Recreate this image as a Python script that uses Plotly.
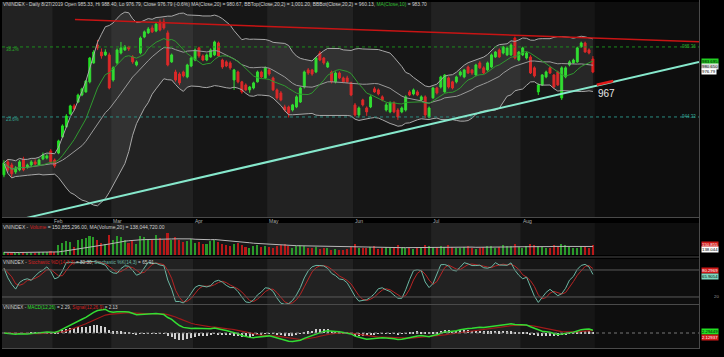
import numpy as np
import pandas as pd
import plotly.graph_objects as go

# ---------------- data ----------------
opens = [910.4, 918.0, 916.2, 912.1, 913.3, 919.7, 915.0, 916.2, 918.0, 916.2,
         919.7, 920.3, 924.4, 919.1, 923.2, 932.6, 938.5, 946.1, 950.8, 953.1,
         957.2, 959.0, 964.9, 976.0, 986.5, 982.4, 980.7, 980.7, 966.0, 976.0,
         981.8, 983.6, 985.4, 979.5, 974.8, 981.8, 991.2, 993.6, 996.5, 994.7,
         1000.0, 1000.0, 993.6, 976.6, 970.7, 969.5, 970.7, 967.8, 974.2, 977.7,
         984.8, 980.1, 977.7, 979.5, 980.7, 987.7, 977.7, 976.6, 976.0, 966.0,
         970.7, 964.9, 963.1, 960.2, 961.3, 964.9, 970.7, 967.2, 971.9, 967.2,
         960.2, 958.4, 950.2, 950.2, 948.4, 950.2, 953.1, 961.9, 971.9, 971.9,
         970.7, 981.8, 978.9, 973.6, 970.7, 964.9, 970.1, 967.2, 967.2, 964.3,
         951.4, 945.5, 954.3, 949.6, 950.2, 960.8, 960.2, 956.1, 948.4, 947.3,
         952.5, 948.4, 947.3, 948.4, 959.0, 957.8, 959.0, 954.3, 956.1, 944.3,
         955.5, 961.3, 961.9, 959.0, 967.2, 964.9, 964.9, 968.9, 967.8, 973.6,
         971.9, 968.9, 976.0, 973.1, 971.9, 973.6, 979.5, 983.6, 981.8, 980.7,
         980.7, 990.6, 977.7, 980.7, 978.9, 979.5, 973.1, 959.0, 963.1, 967.8,
         973.1, 968.9, 970.7, 955.5, 967.8, 974.8, 976.0, 976.6, 985.4, 987.7,
         983.6, 978.3]
closes = [917.4, 913.3, 911.0, 914.5, 918.0, 913.3, 916.2, 918.0, 916.8, 919.1,
          922.1, 921.5, 918.0, 915.6, 930.3, 939.1, 944.9, 950.8, 949.0, 957.2,
          960.8, 965.4, 978.9, 982.4, 984.8, 980.1, 982.4, 961.3, 973.1, 983.6,
          984.8, 985.4, 984.2, 976.6, 976.6, 990.6, 994.2, 995.9, 994.2, 998.8,
          995.3, 996.5, 974.8, 980.7, 966.0, 964.3, 968.4, 974.8, 978.9, 983.6,
          980.1, 977.7, 980.7, 983.6, 988.3, 980.1, 973.6, 974.2, 973.1, 971.9,
          964.9, 959.0, 960.2, 961.9, 964.3, 970.7, 967.8, 973.1, 969.5, 960.2,
          955.5, 954.3, 948.4, 946.7, 951.4, 956.1, 961.3, 970.7, 970.1, 969.5,
          978.9, 977.7, 976.0, 976.0, 964.9, 970.1, 967.2, 964.9, 964.9, 957.2,
          945.5, 949.6, 951.4, 947.3, 956.1, 959.0, 957.8, 954.3, 951.4, 952.5,
          947.3, 944.3, 949.6, 956.1, 957.2, 960.2, 957.2, 956.1, 945.5, 949.6,
          961.3, 958.4, 967.8, 968.9, 961.9, 961.3, 967.8, 970.7, 971.9, 970.1,
          970.1, 974.8, 973.1, 970.1, 976.0, 980.7, 982.4, 979.5, 985.4, 984.8,
          986.5, 978.9, 982.4, 984.8, 981.8, 970.1, 968.4, 963.1, 968.9, 970.7,
          970.1, 961.9, 963.1, 973.1, 973.1, 976.6, 977.7, 984.8, 987.7, 982.4,
          981.8, 970.7]
highs = [919.0, 919.5, 917.5, 915.5, 919.0, 921.0, 917.0, 919.0, 919.5, 920.0,
         923.5, 922.5, 925.5, 920.0, 931.0, 940.0, 946.0, 951.5, 952.0, 958.0,
         961.5, 966.0, 979.5, 983.5, 989.5, 984.5, 984.0, 982.0, 974.0, 984.5,
         988.3, 986.5, 986.0, 980.5, 977.5, 991.5, 995.0, 997.0, 998.0, 999.5,
         1001.5, 1002.0, 995.0, 981.5, 972.0, 970.5, 971.5, 975.5, 979.5, 984.5,
         985.5, 981.0, 981.5, 984.5, 989.0, 988.5, 978.5, 977.5, 977.0, 972.5,
         971.5, 965.5, 964.0, 962.5, 965.0, 971.5, 971.5, 974.0, 973.0, 968.0,
         961.0, 959.5, 951.5, 951.0, 952.0, 957.0, 962.0, 971.5, 973.0, 972.5,
         979.5, 983.0, 979.5, 977.0, 971.5, 971.0, 971.0, 968.0, 968.5, 965.0,
         952.5, 950.5, 955.0, 950.5, 957.0, 962.0, 961.0, 957.0, 952.5, 953.5,
         953.5, 949.5, 950.5, 957.0, 960.0, 961.0, 960.0, 957.0, 957.0, 950.5,
         962.0, 962.0, 968.5, 969.5, 968.0, 965.5, 968.5, 971.5, 972.5, 974.5,
         972.5, 975.5, 977.0, 974.0, 976.8, 981.5, 983.0, 984.5, 986.0, 985.5,
         987.5, 991.5, 983.0, 985.5, 982.5, 980.5, 974.0, 964.0, 969.5, 971.5,
         974.0, 969.5, 971.5, 974.0, 974.0, 977.5, 978.5, 985.5, 988.5, 988.5,
         984.5, 980.0]
lows = [909.0, 912.0, 909.0, 911.0, 912.5, 912.5, 914.0, 915.5, 916.0, 915.5,
        919.0, 919.5, 917.0, 914.5, 922.5, 932.0, 938.0, 945.5, 948.0, 952.5,
        956.5, 958.5, 964.0, 975.5, 983.5, 978.5, 980.0, 960.5, 965.0, 975.0,
        981.0, 983.0, 983.0, 975.5, 974.0, 981.0, 990.5, 993.0, 993.5, 994.0,
        994.5, 995.5, 974.0, 976.0, 965.0, 963.0, 967.5, 967.0, 973.5, 977.0,
        979.0, 977.0, 977.0, 979.0, 980.0, 979.5, 972.5, 973.5, 972.0, 960.2,
        964.0, 958.0, 959.5, 958.5, 960.5, 964.5, 967.0, 966.5, 968.5, 959.5,
        954.5, 953.5, 947.5, 944.0, 947.5, 949.5, 952.5, 961.0, 969.0, 968.5,
        970.0, 977.0, 975.0, 973.0, 964.0, 964.0, 966.5, 964.0, 964.0, 956.5,
        944.5, 944.0, 950.5, 945.0, 949.5, 958.5, 957.0, 953.5, 947.5, 946.5,
        946.5, 942.6, 946.5, 947.5, 956.5, 957.0, 956.5, 953.5, 943.7, 943.5,
        955.0, 957.5, 961.0, 958.5, 961.0, 960.5, 964.0, 968.0, 967.0, 969.5,
        969.0, 968.0, 972.5, 969.5, 971.0, 973.0, 979.0, 979.0, 981.0, 980.0,
        980.0, 978.0, 977.0, 980.0, 978.0, 969.5, 967.5, 957.2, 962.5, 967.0,
        969.5, 961.0, 962.5, 954.3, 967.0, 974.0, 975.5, 976.0, 985.0, 982.0,
        981.0, 970.0]
volumes_m = [105, 102, 100, 108, 104, 106, 100, 103, 98, 104, 108, 106, 112,
             104, 150, 165, 175, 170, 140, 185, 190, 195, 210, 200, 185, 165, 160, 215,
             185, 210, 200, 180, 165, 175, 160, 205, 200, 190, 180, 215, 195, 185, 225, 180, 200, 185, 170, 175, 190,
             165, 170, 155, 160, 175, 185, 170, 160, 150, 145, 155, 165, 148, 140, 135, 142, 150, 140, 145,
             138, 135, 145, 150, 160, 145, 135, 145, 150, 142, 130, 135, 140, 128, 130, 135, 122, 126, 118, 122, 126, 140,
             155, 135, 130, 135, 140, 145, 128, 132, 136, 130, 140, 150, 138, 135, 130, 126, 130, 135, 148, 142,
             140, 136, 145, 140, 148, 136, 130, 134, 138, 142, 130, 126, 134, 138, 142, 146, 134, 138, 150, 142, 146, 155, 138,
             135, 142, 155, 148, 142, 140, 135, 130, 148, 142, 155, 150, 140, 135, 130, 142, 140, 132, 150.9]

month_starts = [13, 28, 49, 68, 90, 110, 133]
month_labels = ["Feb", "Mar", "Apr", "May", "Jun", "Jul", "Aug"]
fib_levels = [985.36, 944.33]
fib_names = ["38.2%", "23.6%"]
resist_x = [18.2, 178.2]
resist_y = [1001.4, 988.4]
support_x = [5.8, 178.2]
support_y = [885.2, 976.6]
mark_x = [152.0, 156.2]
mark_y = [963.2, 965.4]
target_label = "967"

# ---------------- helpers ----------------
W, H = 724, 357
def py(p):
    return 1 - p / H
def pxx(p):
    return p / W

N = len(closes)
idx = list(range(N))
c = pd.Series(closes); hi = pd.Series(highs); lo = pd.Series(lows)
vol = pd.Series(volumes_m)

ma20 = c.rolling(20, min_periods=1).mean()
sd20 = c.rolling(20, min_periods=1).std(ddof=0).fillna(0)
bbu = ma20 + 2 * sd20
bbl = ma20 - 2 * sd20
ma10 = c.rolling(10, min_periods=1).mean()
vma = vol.rolling(20, min_periods=1).mean()

ll = lo.rolling(14, min_periods=1).min()
hh = hi.rolling(14, min_periods=1).max()
fk = 100 * (c - ll) / (hh - ll).replace(0, np.nan)
fk = fk.fillna(50)
sk = fk.rolling(3, min_periods=1).mean()
sdd = sk.rolling(3, min_periods=1).mean()

ema12 = c.ewm(span=12, adjust=False).mean()
ema26 = c.ewm(span=26, adjust=False).mean()
macd = ema12 - ema26
sig = macd.ewm(span=9, adjust=False).mean()
hist = macd - sig

GREEN = "#22e022"
RED = "#e01818"

fig = go.Figure()
# Bollinger
fig.add_trace(go.Scatter(x=idx, y=bbl, mode="lines", line=dict(color="#a8a8a8", width=1),
                         xaxis="x", yaxis="y", hoverinfo="skip"))
fig.add_trace(go.Scatter(x=idx, y=bbu, mode="lines", line=dict(color="#a8a8a8", width=1),
                         fill="tonexty", fillcolor="rgba(200,200,200,0.10)",
                         xaxis="x", yaxis="y", hoverinfo="skip"))
fig.add_trace(go.Scatter(x=idx, y=ma20, mode="lines", line=dict(color="#9a9a9a", width=1),
                         xaxis="x", yaxis="y", hoverinfo="skip"))
fig.add_trace(go.Scatter(x=idx, y=ma10, mode="lines", line=dict(color="#2f9a2f", width=1),
                         xaxis="x", yaxis="y", hoverinfo="skip"))
fig.add_trace(go.Candlestick(x=idx, open=opens, high=highs, low=lows, close=closes,
                             increasing=dict(line=dict(color=GREEN, width=1), fillcolor=GREEN),
                             decreasing=dict(line=dict(color=RED, width=1), fillcolor=RED),
                             whiskerwidth=0, xaxis="x", yaxis="y"))

# Volume
vcols = ["#2a9a2a" if cl >= op else "#b81818" for op, cl in zip(opens, closes)]
fig.add_trace(go.Bar(x=idx, y=volumes_m, marker=dict(color=vcols, line=dict(width=0)), width=0.4,
                     xaxis="x2", yaxis="y2"))
fig.add_trace(go.Scatter(x=idx, y=vma, mode="lines", line=dict(color="#b8b8b8", width=1),
                         xaxis="x2", yaxis="y2"))

# Stochastic
fig.add_trace(go.Scatter(x=idx, y=sdd, mode="lines", line=dict(color="#b82424", width=1),
                         xaxis="x3", yaxis="y3"))
fig.add_trace(go.Scatter(x=idx, y=sk, mode="lines", line=dict(color="#6cb8a4", width=1),
                         xaxis="x3", yaxis="y3"))

# MACD
fig.add_trace(go.Bar(x=idx, y=hist, marker=dict(color="#d0d0d0", line=dict(width=0)), width=0.3,
                     xaxis="x4", yaxis="y4"))
fig.add_trace(go.Scatter(x=idx, y=sig, mode="lines", line=dict(color="#a01a1a", width=1.2),
                         xaxis="x4", yaxis="y4"))
fig.add_trace(go.Scatter(x=idx, y=macd, mode="lines", line=dict(color="#33dd33", width=1.5),
                         xaxis="x4", yaxis="y4"))

xr = [-0.5, 178.2]
xdom = [pxx(2), pxx(699)]
ax = dict(range=xr, domain=xdom, showgrid=False, zeroline=False, showticklabels=False,
          showline=False, fixedrange=True)
yax = dict(showgrid=False, zeroline=False, showticklabels=False, showline=False, fixedrange=True)

shapes = []
# month shading
bounds = [-0.5] + [m - 0.5 for m in month_starts] + [N - 0.5, xr[1]]
band_cols = ["#222222", "#161616"] * 4 + ["#0e0e0e"]
for ref in ["y", "y2", "y3", "y4"]:
    for k in range(len(bounds) - 1):
        shapes.append(dict(type="rect", xref="x", yref=ref + " domain", x0=bounds[k], x1=bounds[k + 1],
                           y0=0, y1=1, fillcolor=band_cols[k], line=dict(width=0), layer="below"))
# fib lines
fib_cols = ["#1c8c1c", "#2a8c80"]
for lv, col in zip(fib_levels, fib_cols):
    shapes.append(dict(type="line", xref="x", yref="y", x0=xr[0], x1=xr[1], y0=lv, y1=lv,
                       line=dict(color=col, width=1, dash="dot")))
# trend lines
shapes.append(dict(type="line", xref="x", yref="y", x0=resist_x[0], x1=resist_x[1],
                   y0=resist_y[0], y1=resist_y[1], line=dict(color="#c81414", width=1.5)))
shapes.append(dict(type="line", xref="x", yref="y", x0=support_x[0], x1=support_x[1],
                   y0=support_y[0], y1=support_y[1], line=dict(color="#86e8cc", width=2)))
shapes.append(dict(type="line", xref="x", yref="y", x0=mark_x[0], x1=mark_x[1],
                   y0=mark_y[0], y1=mark_y[1], line=dict(color="#e01818", width=2.5)))
# stochastic 80 / 20 lines and MACD zero line
for lv in [80, 20]:
    shapes.append(dict(type="line", xref="x", yref="y3", x0=xr[0], x1=xr[1], y0=lv, y1=lv,
                       line=dict(color="#5a5a5a", width=1)))
shapes.append(dict(type="line", xref="x", yref="y4", x0=xr[0], x1=xr[1], y0=0, y1=0,
                   line=dict(color="#777777", width=1, dash="dot")))
# separators
for ypx in [217.5, 257, 304.5, 348.5]:
    shapes.append(dict(type="line", xref="paper", yref="paper", x0=xdom[0], x1=xdom[1],
                       y0=py(ypx), y1=py(ypx), line=dict(color="#4a4a4a", width=1)))
shapes.append(dict(type="line", xref="paper", yref="paper", x0=pxx(699.5), x1=pxx(699.5),
                   y0=py(349), y1=py(0), line=dict(color="#4a4a4a", width=1)))

ann = []
FONT = "Liberation Sans, Arial, sans-serif"
def note(text, x, y, size, color, xref="paper", yref="paper", xanchor="left", bg=None):
    d = dict(text=text, x=x, y=y, xref=xref, yref=yref, xanchor=xanchor, yanchor="middle",
             showarrow=False, font=dict(size=size, color=color, family=FONT), borderpad=0)
    if bg:
        d["bgcolor"] = bg
    ann.append(d)

note("VNINDEX - Daily 8/27/2019 Open 985.33, Hi 988.40, Lo 976.79, Close 976.79 (-0.6%) "
     "MA(Close,20) = 980.67, BBTop(Close,20,2) = 1,001.20, BBBot(Close,20,2) = 960.13, "
     "<span style='color:#2fbf2f'>MA(Close,10)</span> = 983.70", pxx(2), py(5), 4.9, "#cfcfcf")
note("VNINDEX - <span style='color:#d02020'>Volume</span> = 150,855,296.00, MA(Volume,20) = 138,044,720.00",
     pxx(2), py(227), 5.0, "#cfcfcf")
note("VNINDEX - <span style='color:#d02020'>Stochastic %D(14,3,3)</span> = 80.30, "
     "<span style='color:#6cb8a4'>Stochastic %K(14,3)</span> = 65.91", pxx(2), py(262), 4.7, "#cfcfcf")
note("VNINDEX - <span style='color:#2fdf2f'>MACD(12,26)</span> = 2.29, "
     "<span style='color:#d02020'>Signal(12,26,9)</span> = 2.13", pxx(2), py(307), 4.6, "#cfcfcf")

for m, lab in zip(month_starts, month_labels):
    note(lab, m - 0.3, py(220.5), 5, "#b0b0b0", xref="x")

for name, lv, col in zip(fib_names, fib_levels, ["#2aa82a", "#35a898"]):
    note(name, pxx(5), lv - 1.6, 4.5, col, yref="y")
    note("%.2f" % lv, pxx(681), lv, 4.5, col, yref="y")

note(target_label, 154.4, 957.8, 10, "#e6e6e6", xref="x", yref="y", xanchor="center")

# right-side value labels
note("983.695", pxx(701), py(61), 4.3, "#000000", bg="#22d022")
note("980.650", pxx(701), py(66.5), 4.3, "#000000", bg="#dcdcdc")
note("976.79", pxx(701), py(72), 4.3, "#000000", bg="#ffffff")
note("150.855", pxx(701), py(244.5), 4.3, "#ffffff", bg="#d01818")
note("138.044", pxx(701), py(250), 4.3, "#000000", bg="#ffffff")
note("80.2969", pxx(701), py(270), 4.3, "#ffffff", bg="#d01818")
note("65.9054", pxx(701), py(276), 4.3, "#000000", bg="#7fd8c0")
note("20", pxx(713), py(296.5), 4.3, "#9a9a9a")
note("2.29449", pxx(701), py(331), 4.3, "#000000", bg="#22e022")
note("2.12937", pxx(701), py(337), 4.3, "#ffffff", bg="#d01818")

fig.update_layout(
    width=W, height=H, margin=dict(l=0, r=0, t=0, b=0),
    paper_bgcolor="#000000", plot_bgcolor="#161616",
    showlegend=False, bargap=0, hovermode=False,
    xaxis=dict(ax, anchor="y", rangeslider=dict(visible=False)),
    xaxis2=dict(ax, anchor="y2", matches="x"),
    xaxis3=dict(ax, anchor="y3", matches="x"),
    xaxis4=dict(ax, anchor="y4", matches="x"),
    yaxis=dict(yax, domain=[py(217), py(2)], range=[885.7, 1011.7], anchor="x"),
    yaxis2=dict(yax, domain=[py(255), py(223)], range=[88, 289], anchor="x2"),
    yaxis3=dict(yax, domain=[py(304), py(259)], range=[4.4, 104.4], anchor="x3"),
    yaxis4=dict(yax, domain=[py(348), py(305)], range=[-10.7, 20], anchor="x4"),
    shapes=shapes, annotations=ann,
)

fig.write_html("out.html", config={"displayModeBar": False})

# remove the default page margin so the figure sits at the window's top-left corner
with open("out.html", "r", encoding="utf-8") as f:
    html = f.read()
html = html.replace("<body>", "<body style=\"margin:0;padding:0;background:#000;overflow:hidden\">", 1)
with open("out.html", "w", encoding="utf-8") as f:
    f.write(html)
